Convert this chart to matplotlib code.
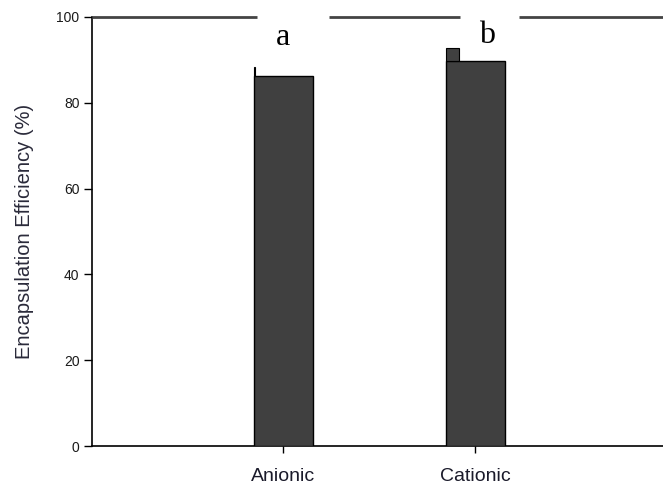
import matplotlib
matplotlib.use("Agg")
import matplotlib.pyplot as plt

# Data
categories = ["Anionic", "Cationic"]
efficiency = [86.2, 89.7]          # mean encapsulation efficiency (%)
upper_error = [88.3, 92.8]         # top of upper error mark (%)
letters = ["a", "b"]
y_ticks = [0, 20, 40, 60, 80, 100]

fig = plt.figure(figsize=(6.63, 4.93), dpi=100)
ax = fig.add_axes([92 / 663, 47 / 493, 571 / 663, 429 / 493])

x = list(range(len(categories)))
bar_w = 0.307
bar_color = "#404040"

ax.bar(x, efficiency, width=bar_w, color=bar_color, edgecolor="black",
       linewidth=1.0, zorder=3)

# upper error marks drawn at the left edge of each bar
err_w = [0.008, 0.068]
for xi, m, u, w in zip(x, efficiency, upper_error, err_w):
    ax.bar(xi - bar_w / 2, u - m, bottom=m, width=w, align="edge",
           color=bar_color, edgecolor="black", linewidth=0.8, zorder=3)

ax.set_xlim(-0.995, 1.979)
ax.set_ylim(0, 100)
ax.set_yticks(y_ticks)
ax.set_xticks(x)
ax.set_xticklabels(categories, fontsize=14, family="Liberation Sans",
                   color="#1a1a2a")
ax.set_yticklabels([str(t) for t in y_ticks], fontsize=10,
                   family="Liberation Sans", color="#1a1a1a")
ax.tick_params(axis="y", direction="out", length=6, width=1, pad=3)
ax.tick_params(axis="x", direction="out", length=5, width=1, pad=11)

ax.set_ylabel("Encapsulation Efficiency (%)", fontsize=14.5,
              family="Liberation Sans", color="#2a2a3a", labelpad=16)

for side in ("top", "right"):
    ax.spines[side].set_visible(False)
ax.spines["left"].set_linewidth(1.2)
ax.spines["bottom"].set_linewidth(1.2)

# top frame line, interrupted around the significance letters
gaps = [(-0.135, 0.24), (0.92, 1.23)]
segs = [(-0.995, gaps[0][0]), (gaps[0][1], gaps[1][0]), (gaps[1][1], 1.979)]
for a, b in segs:
    ax.plot([a, b], [100, 100], color="#444444", linewidth=2.0,
            solid_capstyle="butt", clip_on=False, zorder=4)

letter_x = [0.0, 1.06]
letter_y = [93.5, 94.0]
for lx, ly, t in zip(letter_x, letter_y, letters):
    ax.text(lx, ly, t, ha="center", va="baseline", fontsize=23,
            family="Liberation Serif", color="black", zorder=5)

fig.savefig("out.png", dpi=100)
